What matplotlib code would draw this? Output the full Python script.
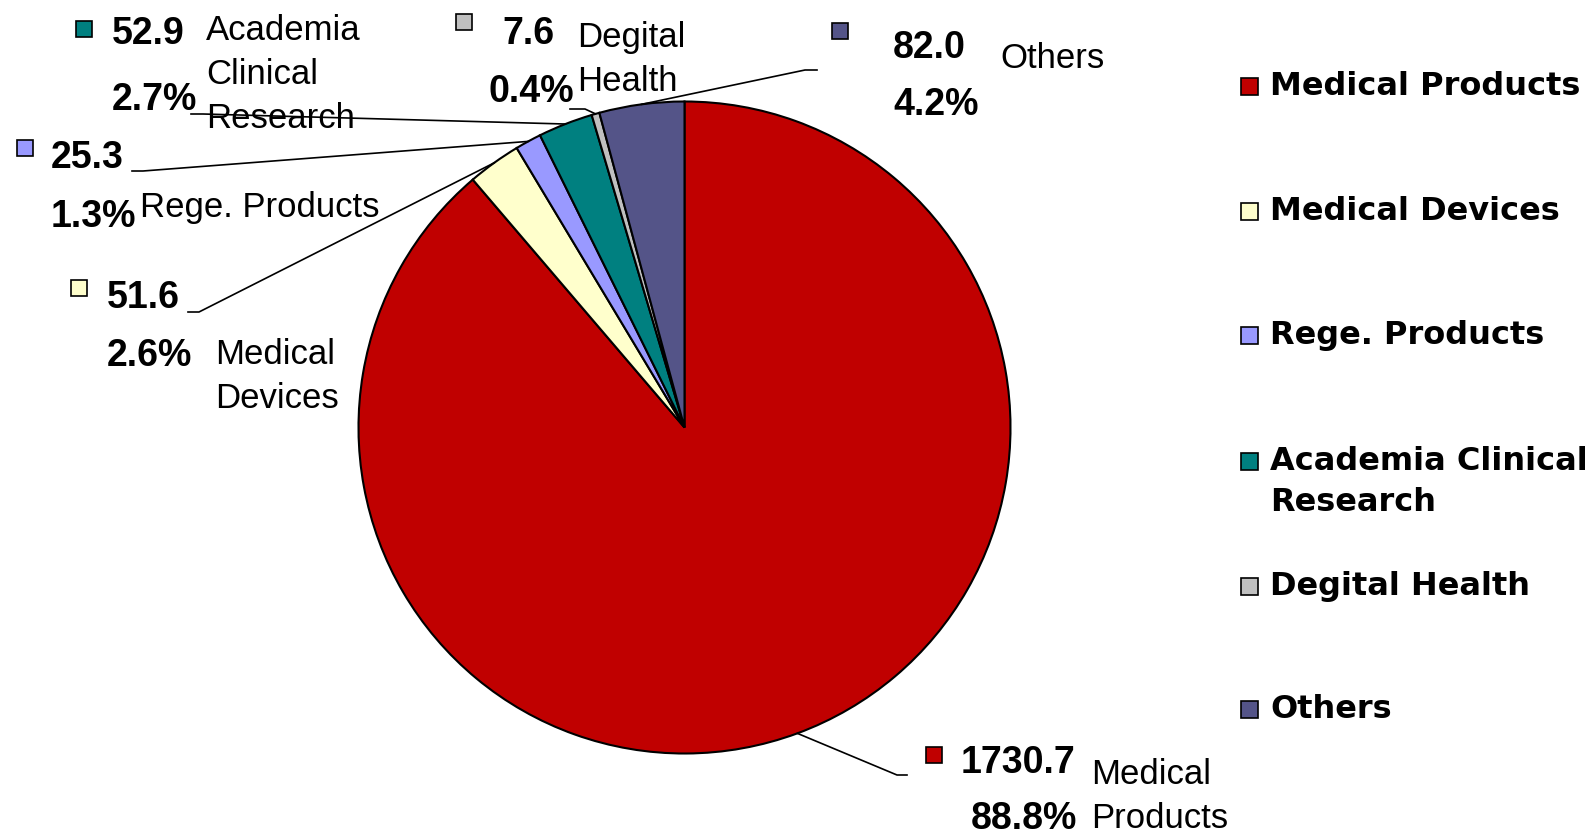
import matplotlib
matplotlib.use("Agg")
import matplotlib.pyplot as plt
from matplotlib.patches import Rectangle
from matplotlib import font_manager
import numpy as np

categories = ["Medical Products", "Medical Devices", "Rege. Products",
              "Academia Clinical Research", "Degital Health", "Others"]
values = [1730.7, 51.6, 25.3, 52.9, 7.6, 82.0]
percents = [88.8, 2.6, 1.3, 2.7, 0.4, 4.2]
legend_labels = ["Medical Products", "Medical Devices", "Rege. Products",
                 "Academia Clinical\nResearch", "Degital Health", "Others"]
slice_labels = ["Medical\nProducts", "Medical\nDevices", "Rege. Products",
                "Academia\nClinical\nResearch", "Degital\nHealth", "Others"]
colors = ["#C00000", "#FFFFCC", "#9999FF", "#008080", "#C0C0C0", "#545488"]

W, H = 1595, 840
fig = plt.figure(figsize=(W / 100, H / 100), dpi=100)
ax = fig.add_axes([0, 0, 1, 1])


def Y(y):
    return H - y


cx, cy, R = 684.5, 427.5, 326
wedges, _ = ax.pie(values, colors=colors, startangle=90, counterclock=False,
                   center=(cx, Y(cy)), radius=R,
                   wedgeprops=dict(edgecolor="black", linewidth=1.5))
ax.set_xlim(0, W)
ax.set_ylim(0, H)
ax.set_aspect("equal")
ax.axis("off")

# choose a narrow bold face for the numbers if available
names = {f.name for f in font_manager.fontManager.ttflist}
if "Liberation Sans Narrow" in names:
    num_font = dict(family="Liberation Sans Narrow", weight="bold", size=31)
else:
    num_font = dict(family="Liberation Sans", weight="bold", size=27, fontstretch="condensed")
name_font = dict(family="Liberation Sans", size=25)

# layout per slice: marker centre, value (x,y), percent (x,y), name (x,y first line), stub (label x, joint x, y)
layout = [
    dict(mk=(934, 755), val=(961, 763), pct=(971, 819), name=(1091, 775), stub=(907, 897, 775)),
    dict(mk=(79, 288), val=(107, 298), pct=(107, 356), name=(215, 354), stub=(188, 199, 312)),
    dict(mk=(25, 147.5), val=(51, 158), pct=(51, 217), name=(140, 208), stub=(132, 143, 171)),
    dict(mk=(84, 28.5), val=(112, 33.5), pct=(112, 100), name=(206, 31), stub=(191, 203, 114)),
    dict(mk=(464, 22), val=(502, 33.5), pct=(489, 91.5), name=(577, 37.6), stub=(570, 585, 109)),
    dict(mk=(840, 30.5), val=(893, 48), pct=(893, 105), name=(1000, 58), stub=(817, 805, 70)),
]

sq = 16
for w, v, p, lab, c, L in zip(wedges, values, percents, slice_labels, colors, layout):
    th = np.deg2rad((w.theta1 + w.theta2) / 2)
    ex, ey = cx + R * np.cos(th), Y(cy) + R * np.sin(th)
    lx, jx, sy = L["stub"]
    ax.plot([ex, jx, lx], [ey, Y(sy), Y(sy)], color="black", lw=1.2, zorder=3)
    mx, my = L["mk"]
    ax.add_patch(Rectangle((mx - sq / 2, Y(my) - sq / 2), sq, sq,
                           facecolor=c, edgecolor="black", lw=1.2, zorder=4))
    ax.text(L["val"][0], Y(L["val"][1]), f"{v:.1f}", ha="left", va="center", **num_font)
    ax.text(L["pct"][0], Y(L["pct"][1]), f"{p:.1f}%", ha="left", va="center", **num_font)
    nx, ny = L["name"]
    for i, line in enumerate(lab.split("\n")):
        ax.text(nx, Y(ny + 44 * i), line, ha="left", va="center", **name_font)

# legend
leg_y = [86.5, 211.5, 335.7, 461, 586, 709]
leg_font = dict(family="DejaVu Sans", weight="bold", size=23)
lsq = 17
for lab, c, ly in zip(legend_labels, colors, leg_y):
    ax.add_patch(Rectangle((1249 - lsq / 2, Y(ly) - lsq / 2), lsq, lsq,
                           facecolor=c, edgecolor="black", lw=1.2))
    for i, line in enumerate(lab.split("\n")):
        ax.text(1270, Y(ly + 41.5 * i), line, ha="left", va="center", **leg_font)

fig.savefig("out.png", dpi=100)
